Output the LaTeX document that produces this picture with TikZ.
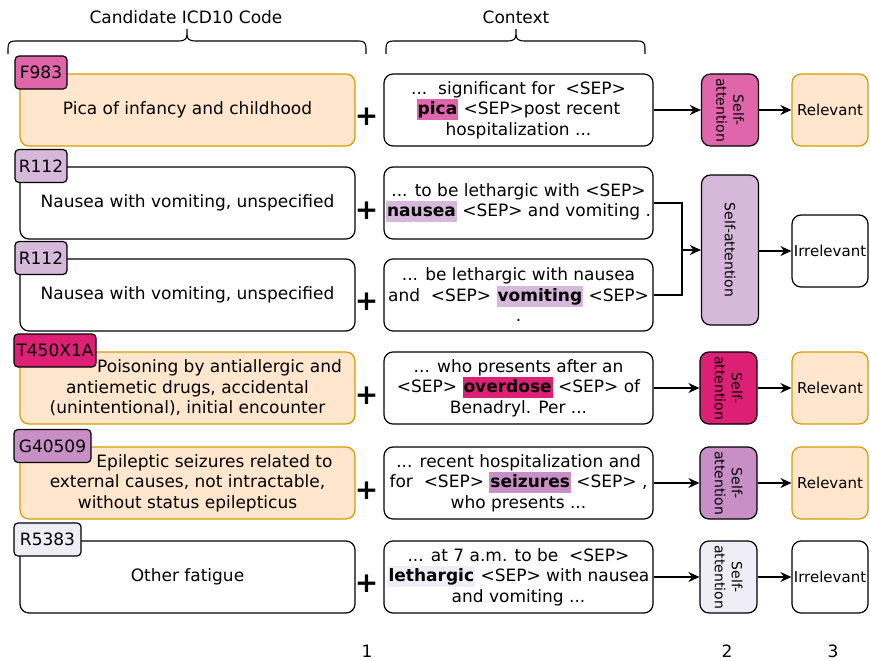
\documentclass[tikz,border=0pt]{standalone}
\usepackage{fontspec}
\setmainfont{DejaVu Sans}
\usetikzlibrary{arrows.meta}
\definecolor{pinkF}{RGB}{224,102,172}
\definecolor{magF}{RGB}{221,31,118}
\definecolor{lpurF}{RGB}{214,184,218}
\definecolor{mpurF}{RGB}{200,142,198}
\definecolor{lavF}{RGB}{239,237,245}
\definecolor{orFill}{RGB}{255,230,204}
\definecolor{orLine}{RGB}{215,155,0}
\newcommand{\hlw}[2]{{\setlength{\fboxsep}{1pt}\colorbox{#1}{\rule[-4.5pt]{0pt}{19pt}\textbf{#2}}}}
\begin{document}
\begin{tikzpicture}[x=1pt,y=-1pt,
  basebox/.style={draw=black, line width=1.2pt, rounded corners=9pt, inner sep=0pt, align=center, font=\fontsize{17}{20.5}\selectfont},
  mainbox/.style={basebox, minimum width=335pt, minimum height=72pt},
  orbox/.style={fill=orFill, draw=orLine},
  ctxbox/.style={basebox, minimum width=269pt, minimum height=72pt},
  codebox/.style={draw=black, line width=1.2pt, rounded corners=4pt, minimum height=33pt, inner sep=0pt, font=\fontsize{17}{20}\selectfont},
  sabox/.style={basebox, minimum width=57pt},
  satext/.style={rotate=-90, align=center, inner sep=0pt, font=\fontsize{14}{17}\selectfont},
  resbox/.style={basebox, minimum width=76pt, minimum height=72pt, font=\fontsize{15}{18}\selectfont},
  plussign/.style={inner sep=0pt, font=\fontsize{28}{28}\selectfont\bfseries},
  lbl/.style={inner sep=0pt, font=\fontsize{17}{20}\selectfont},
  arr/.style={-{Stealth[length=11pt,width=10pt]}, line width=1.3pt},
  conn/.style={line width=1.3pt},
  bracepath/.style={line width=1.1pt, line join=round}
]
\useasboundingbox (0,0) rectangle (870,661);

% headers and braces
\node[lbl] (h1) at (186,17) {Candidate ICD10 Code};
\node[lbl] (h2) at (516,17) {Context};
\draw[bracepath] (8,54) -- (8,48) .. controls (8,43) and (10,41) .. (15,41) -- (179,41) .. controls (184,41) and (187,39) .. (187,35) -- (187,29);
\draw[bracepath] (187,35) .. controls (187,39) and (190,41) .. (195,41) -- (359,41) .. controls (364,41) and (366,43) .. (366,48) -- (366,54);
\draw[bracepath] (386,54) -- (386,48) .. controls (386,43) and (388,41) .. (393,41) -- (508,41) .. controls (513,41) and (516,39) .. (516,35) -- (516,29);
\draw[bracepath] (516,35) .. controls (516,39) and (519,41) .. (524,41) -- (638,41) .. controls (643,41) and (645,43) .. (645,48) -- (645,54);

% main boxes
\node[mainbox, orbox] (m1) at (187.5,110) {Pica of infancy and childhood};
\node[mainbox] (m2) at (187.5,203) {Nausea with vomiting, unspecified};
\node[mainbox] (m3) at (187.5,295) {Nausea with vomiting, unspecified};
\node[mainbox, orbox] (m4) at (187.5,388) {\hspace*{64pt}Poisoning by antiallergic and\\antiemetic drugs, accidental\\(unintentional), initial encounter};
\node[mainbox, orbox] (m5) at (187.5,483) {\hspace*{54pt}Epileptic seizures related to\\external causes, not intractable,\\without status epilepticus};
\node[mainbox] (m6) at (187.5,577) {Other fatigue};

% code boxes
\node[codebox, fill=pinkF, minimum width=52pt] (k1) at (41,72.5) {F983};
\node[codebox, fill=lpurF, minimum width=52pt] (k2) at (41,166) {R112};
\node[codebox, fill=lpurF, minimum width=52pt] (k3) at (41,258) {R112};
\node[codebox, fill=magF, minimum width=82pt] (k4) at (55,350.5) {T450X1A};
\node[codebox, fill=mpurF, minimum width=77pt] (k5) at (52.5,446) {G40509};
\node[codebox, fill=lavF, minimum width=67pt] (k6) at (47.5,539.5) {R5383};

% plus signs
\node[plussign] (p1) at (366.5,117) {+};
\node[plussign] (p2) at (366.5,211) {+};
\node[plussign] (p3) at (366.5,302) {+};
\node[plussign] (p4) at (366.5,396) {+};
\node[plussign] (p5) at (366.5,491) {+};
\node[plussign] (p6) at (366.5,584) {+};

% context boxes
\node[ctxbox] (c1) at (518.5,110) {...\ \ significant for\ \ <SEP>\\\hlw{pinkF}{pica} <SEP>post recent\\hospitalization ...};
\node[ctxbox] (c2) at (518.5,203) {... to be lethargic with <SEP>\\\hlw{lpurF}{nausea} <SEP> and vomiting .};
\node[ctxbox] (c3) at (518.5,295) {... be lethargic with nausea\\and\ \ <SEP> \hlw{lpurF}{vomiting} <SEP>\\.};
\node[ctxbox] (c4) at (518.5,388) {... who presents after an\\<SEP> \hlw{magF}{overdose} <SEP> of\\Benadryl. Per ...};
\node[ctxbox] (c5) at (518.5,483) {... recent hospitalization and\\for\ \ <SEP> \hlw{mpurF}{seizures} <SEP> ,\\who presents ...};
\node[ctxbox] (c6) at (518.5,577) {... at 7 a.m. to be\ \ <SEP>\\\hlw{lavF}{lethargic} <SEP> with nausea\\and vomiting ...};

% self-attention boxes
\node[sabox, fill=pinkF, minimum height=72pt] (s1) at (730,110) {};
\node[satext] (s1t) at (s1) {Self-\\attention};
\node[sabox, fill=lpurF, minimum height=150pt] (s23) at (730,250) {};
\node[satext] (s23t) at (s23) {Self-attention};
\node[sabox, fill=magF, minimum height=72pt] (s4) at (728.5,388) {};
\node[satext] (s4t) at (s4) {Self-\\attention};
\node[sabox, fill=mpurF, minimum height=72pt] (s5) at (728.5,483) {};
\node[satext] (s5t) at (s5) {Self-\\attention};
\node[sabox, fill=lavF, minimum height=72pt] (s6) at (728.5,577) {};
\node[satext] (s6t) at (s6) {Self-\\attention};

% results
\node[resbox, orbox] (r1) at (830,110) {Relevant};
\node[resbox] (r23) at (830,251) {Irrelevant};
\node[resbox, orbox] (r4) at (830,388) {Relevant};
\node[resbox, orbox] (r5) at (830,483) {Relevant};
\node[resbox] (r6) at (830,577) {Irrelevant};

% connectors
\coordinate (j) at (682,250);
\draw[arr] (c1.east) -- (s1.west);
\draw[arr] (s1.east) -- (r1.west);
\draw[conn] (c2.east) -| (j);
\draw[conn] (c3.east) -| (j);
\draw[arr] (j) -- (s23.west |- j);
\draw[arr] (s23.east |- r23.west) -- (r23.west);
\draw[arr] (c4.east) -- (s4.west);
\draw[arr] (s4.east) -- (r4.west);
\draw[arr] (c5.east) -- (s5.west);
\draw[arr] (s5.east) -- (r5.west);
\draw[arr] (c6.east) -- (s6.west);
\draw[arr] (s6.east) -- (r6.west);

% bottom numbers
\node[lbl] (n1) at (367,651) {1};
\node[lbl] (n2) at (727,651) {2};
\node[lbl] (n3) at (833,651) {3};
\end{tikzpicture}
\end{document}
